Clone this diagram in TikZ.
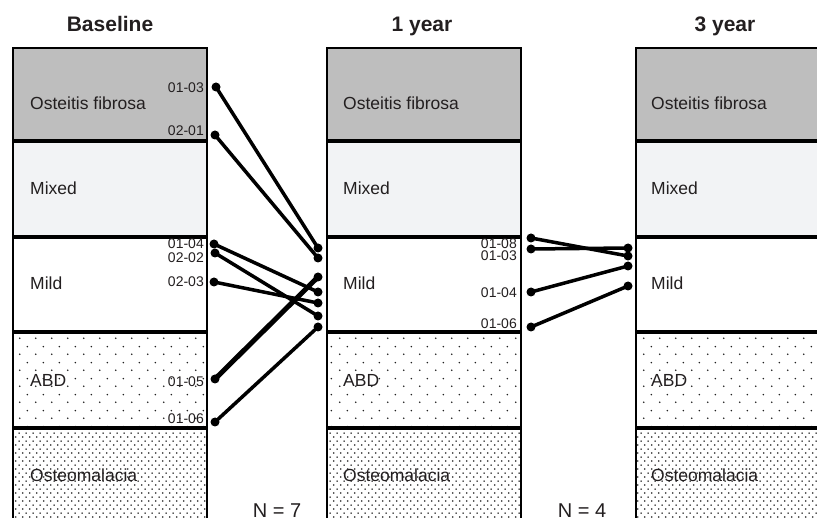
\documentclass[tikz,border=0pt]{standalone}
\usepackage{fontspec}
\setmainfont{Liberation Sans}
\usetikzlibrary{patterns}
\definecolor{txt}{HTML}{231F20}
\definecolor{ofgray}{HTML}{BEBEBE}
\definecolor{mixgray}{HTML}{F2F3F5}
\definecolor{dotc}{HTML}{222222}
\pgfdeclarepatternformonly{sparsedots}{\pgfpoint{0pt}{0pt}}{\pgfpoint{16pt}{16pt}}{\pgfpoint{16pt}{16pt}}{%
  \pgfpathcircle{\pgfpoint{4pt}{4pt}}{0.9pt}%
  \pgfpathcircle{\pgfpoint{12pt}{12pt}}{0.9pt}%
  \pgfusepath{fill}}
\pgfdeclarepatternformonly{densedots}{\pgfpoint{0pt}{0pt}}{\pgfpoint{7.4pt}{8.4pt}}{\pgfpoint{7.4pt}{8.4pt}}{%
  \pgfpathcircle{\pgfpoint{1.85pt}{2.1pt}}{0.9pt}%
  \pgfpathcircle{\pgfpoint{5.55pt}{6.3pt}}{0.9pt}%
  \pgfusepath{fill}}
\begin{document}
\begin{tikzpicture}[x=1pt,y=-1pt,
  box/.style={line width=1.6pt, draw=black},
  lbl/.style={font=\fontsize{17.5}{20}\selectfont, text=txt, anchor=west, inner sep=0},
  idl/.style={font=\fontsize{14}{16}\selectfont, text=txt, anchor=east, inner sep=0},
  hdr/.style={font=\bfseries\fontsize{21}{24}\selectfont, text=txt, inner sep=0, anchor=base},
  nlbl/.style={font=\fontsize{20}{22}\selectfont, text=txt, anchor=base, inner sep=0},
  pdot/.style={circle, fill=black, inner sep=0, minimum size=9pt},
  conn/.style={line width=3.5pt, black, line cap=round},
  thickconn/.style={line width=5pt, black, line cap=round}]
\useasboundingbox (0,0) rectangle (817,518);
\clip (0,0) rectangle (817,518);
\fill[white] (0,0) rectangle (817,518);
% columns
\foreach \L/\R in {13/207, 327/521, 636/830} {
  \filldraw[box, fill=ofgray] (\L,48) rectangle (\R,140);
  \filldraw[box, fill=mixgray] (\L,142) rectangle (\R,236);
  \filldraw[box, fill=white] (\L,238) rectangle (\R,331);
  \fill[white] (\L,333) rectangle (\R,427);
  \fill[pattern=sparsedots, pattern color=dotc] (\L,333) rectangle (\R,427);
  \draw[box] (\L,333) rectangle (\R,427);
  \fill[white] (\L,429) rectangle (\R,530);
  \fill[pattern=densedots, pattern color=dotc] (\L,429) rectangle (\R,530);
  \draw[box] (\L,429) rectangle (\R,530);
}
% headers
\node[hdr] (h1) at (110,32) {Baseline};
\node[hdr] (h2) at (422,32) {1 year};
\node[hdr] (h3) at (725,32) {3 year};
% category labels
\foreach \X/\c in {30/a, 343/b, 651/c} {
  \node[lbl] (of\c) at (\X,103) {Osteitis fibrosa};
  \node[lbl] (mx\c) at (\X,188) {Mixed};
  \node[lbl] (md\c) at (\X,283) {Mild};
  \node[lbl] (ab\c) at (\X,380) {ABD};
  \node[lbl] (om\c) at (\X,475) {Osteomalacia};
}
% N labels
\node[nlbl] (n1) at (277,517) {N = 7};
\node[nlbl] (n2) at (582,517) {N = 4};
% id labels column 1
\node[idl] (l1) at (204,88) {01-03};
\node[idl] (l2) at (204,131) {02-01};
\node[idl] (l3) at (204,244) {01-04};
\node[idl] (l4) at (204,258) {02-02};
\node[idl] (l5) at (204,282) {02-03};
\node[idl] (l6) at (204,382) {01-05};
\node[idl] (l7) at (204,419) {01-06};
% id labels column 2
\node[idl] (m1) at (517,244) {01-08};
\node[idl] (m2) at (517,256) {01-03};
\node[idl] (m3) at (517,293) {01-04};
\node[idl] (m4) at (517,324) {01-06};
% dots baseline
\node[pdot] (b1) at (216,87) {};
\node[pdot] (b2) at (215,135) {};
\node[pdot] (b3) at (214,244) {};
\node[pdot] (b4) at (215,253) {};
\node[pdot] (b5) at (214,282) {};
\node[pdot] (b6) at (215,379) {};
\node[pdot] (b7) at (215,422) {};
% dots 1 year (left)
\node[pdot] (y1) at (318,248) {};
\node[pdot] (y2) at (318,258) {};
\node[pdot] (y3) at (318,277) {};
\node[pdot] (y4) at (318,292) {};
\node[pdot] (y5) at (318,303) {};
\node[pdot] (y6) at (318,316) {};
\node[pdot] (y7) at (318,327) {};
% dots 1 year (right)
\node[pdot] (c1) at (531,238) {};
\node[pdot] (c2) at (531,249) {};
\node[pdot] (c3) at (531,292) {};
\node[pdot] (c4) at (531,327) {};
% dots 3 year
\node[pdot] (d1) at (628,248) {};
\node[pdot] (d2) at (628,256) {};
\node[pdot] (d3) at (628,266) {};
\node[pdot] (d4) at (628,286) {};
% connectors
\draw[conn] (b1.center) -- (y1.center);
\draw[conn] (b2.center) -- (y2.center);
\draw[conn] (b3.center) -- (y4.center);
\draw[conn] (b4.center) -- (y6.center);
\draw[conn] (b5.center) -- (y5.center);
\draw[thickconn] (b6.center) -- (y3.center);
\draw[conn] (b7.center) -- (y7.center);
\draw[conn] (c1.center) -- (d2.center);
\draw[conn] (c2.center) -- (d1.center);
\draw[conn] (c3.center) -- (d3.center);
\draw[conn] (c4.center) -- (d4.center);
\end{tikzpicture}
\end{document}
